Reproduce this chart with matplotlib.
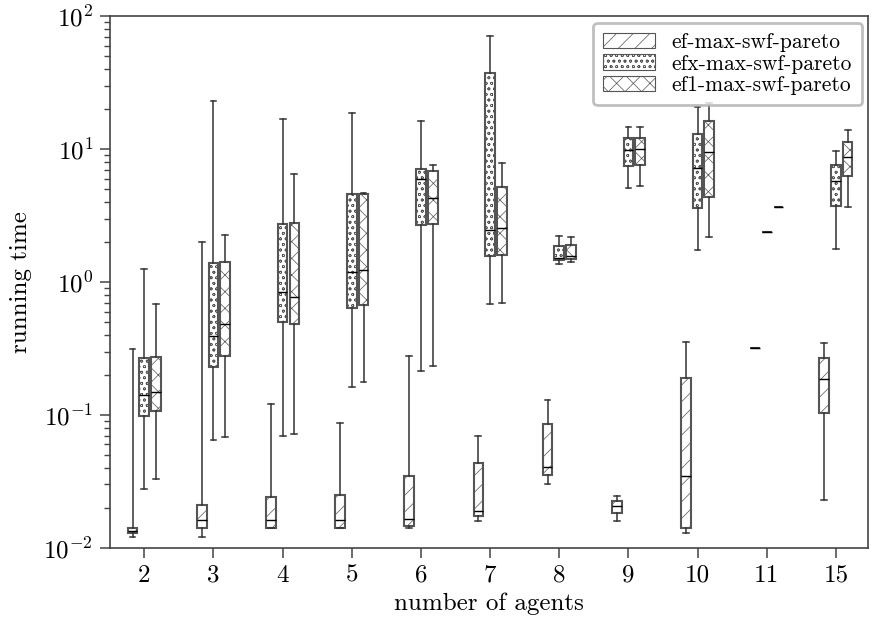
import numpy as np
import matplotlib
matplotlib.use("Agg")
import matplotlib.pyplot as plt
from matplotlib.patches import Patch
from matplotlib.ticker import FuncFormatter

plt.rcParams['font.family'] = 'serif'
plt.rcParams['font.serif'] = ['cmr10']
plt.rcParams['mathtext.fontset'] = 'cm'
plt.rcParams['axes.unicode_minus'] = False
plt.rcParams['hatch.linewidth'] = 0.5

agents = ['2', '3', '4', '5', '6', '7', '8', '9', '10', '11', '15']
series = ['ef-max-swf-pareto', 'efx-max-swf-pareto', 'ef1-max-swf-pareto']
hatches = ['//', 'ooo', 'xx']

# per group: (whislo, q1, med, q3, whishi)
ef = [
    (0.0120, 0.0130, 0.0135, 0.0141, 0.313),
    (0.0120, 0.0141, 0.0162, 0.0211, 1.99),
    (0.0141, 0.0141, 0.0162, 0.0243, 0.120),
    (0.0141, 0.0141, 0.0163, 0.0250, 0.0875),
    (0.0141, 0.0147, 0.0165, 0.0350, 0.279),
    (0.0160, 0.0174, 0.0190, 0.0438, 0.0691),
    (0.0301, 0.0354, 0.0409, 0.0851, 0.129),
    (0.0160, 0.0182, 0.0205, 0.0227, 0.0247),
    (0.0130, 0.0141, 0.0350, 0.191, 0.352),
    (0.321, 0.321, 0.321, 0.321, 0.321),
    (0.0231, 0.104, 0.185, 0.268, 0.348),
]
efx = [
    (0.0279, 0.0988, 0.141, 0.270, 1.25),
    (0.0649, 0.231, 0.393, 1.39, 23.1),
    (0.0695, 0.498, 0.837, 2.73, 17.0),
    (0.162, 0.634, 1.18, 4.57, 18.6),
    (0.215, 2.68, 5.92, 7.07, 16.4),
    (0.683, 1.56, 2.45, 37.1, 71.6),
    (1.365, 1.46, 1.53, 1.87, 2.23),
    (5.11, 7.45, 9.83, 12.2, 14.6),
    (1.73, 3.62, 7.2, 13.1, 20.8),
    (2.36, 2.36, 2.36, 2.36, 2.36),
    (1.77, 3.73, 5.72, 7.62, 9.61),
]
ef1 = [
    (0.0330, 0.107, 0.149, 0.272, 0.679),
    (0.0687, 0.278, 0.483, 1.42, 2.26),
    (0.0716, 0.483, 0.775, 2.76, 6.52),
    (0.178, 0.668, 1.23, 4.60, 4.69),
    (0.232, 2.73, 4.26, 6.87, 7.54),
    (0.690, 1.60, 2.53, 5.21, 7.89),
    (1.41, 1.50, 1.58, 1.89, 2.19),
    (5.24, 7.58, 9.95, 12.2, 14.6),
    (2.19, 4.36, 9.44, 16.3, 22.1),
    (3.64, 3.64, 3.64, 3.64, 3.64),
    (3.68, 6.27, 8.75, 11.3, 13.9),
]
data = [ef, efx, ef1]

fig, ax = plt.subplots(figsize=(8.71, 6.24), dpi=100)
fig.subplots_adjust(left=0.126, right=0.997, top=0.974, bottom=0.122)

offset = 0.17
w = 0.14
x = np.arange(len(agents))
edge = '#555555'
# lighter hatch lines if this matplotlib supports a separate hatch colour
extra = {'hatchcolor': '#888888'} if hasattr(Patch, 'set_hatchcolor') else {}

for j, s in enumerate(data):
    stats = []
    for lo, q1, med, q3, hi in s:
        stats.append(dict(whislo=lo, q1=q1, med=med, q3=q3, whishi=hi, fliers=[]))
    ax.bxp(stats, positions=x + (j - 1) * offset, widths=w, capwidths=0.6 * w,
           patch_artist=True, showfliers=False, manage_ticks=False,
           boxprops=dict(facecolor='white', edgecolor=edge, linewidth=1.5, hatch=hatches[j], **extra),
           medianprops=dict(color='black', linewidth=1.0),
           whiskerprops=dict(color='#333333', linewidth=1.1),
           capprops=dict(color='#333333', linewidth=1.1))

ax.set_yscale('log')
ax.set_ylim(1e-2, 1e2)
ax.set_xlim(-0.5, 10.47)
ax.set_xticks(x)
ax.set_xticklabels(agents)
ax.yaxis.set_major_formatter(FuncFormatter(lambda v, p: r'$10^{%d}$' % round(np.log10(v))))
ax.tick_params(which='major', labelsize=18, length=7, width=1.1, pad=5, color='#444444')
ax.tick_params(which='minor', length=4, width=1.0, color='#444444')
for sp in ax.spines.values():
    sp.set_linewidth(1.2)
    sp.set_color('#444444')
ax.set_xlabel('number of agents', fontsize=18, labelpad=4)
ax.set_ylabel('running time', fontsize=18, labelpad=8)

handles = [Patch(facecolor='white', edgecolor=edge, hatch=h, linewidth=0.8, **extra) for h in hatches]
leg = ax.legend(handles, series, loc='upper right', fontsize=15.5, handlelength=2.4,
                handleheight=0.7, labelspacing=0.1, edgecolor='#b0b0b0', fancybox=True,
                borderaxespad=0.3, borderpad=0.45)
leg.get_frame().set_linewidth(2)

fig.savefig('out.png', dpi=100)
